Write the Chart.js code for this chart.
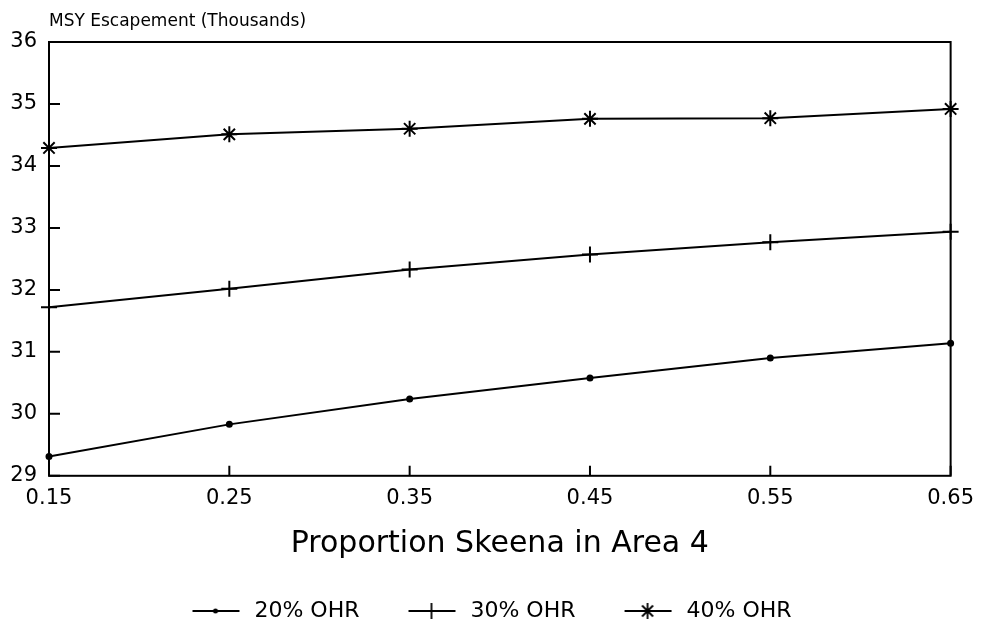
<!DOCTYPE html>
<html>
<head>
<meta charset="utf-8">
<script src="https://cdn.jsdelivr.net/npm/chart.js@4.4.0/dist/chart.umd.min.js"></script>
<style>
  html, body { margin: 0; padding: 0; background: #fff; }
  #wrap { width: 984px; height: 622px; }
</style>
</head>
<body>
<div id="wrap"><canvas id="msy" width="984" height="622"></canvas></div>
<script>
// proportion of Skeena fish in Area 4
var proportion = [0.15, 0.25, 0.35, 0.45, 0.55, 0.65];
// MSY escapement (thousands) per offshore harvest rate
var ohr20 = [29.31, 29.83, 30.24, 30.58, 30.90, 31.14];
var ohr30 = [31.72, 32.02, 32.33, 32.57, 32.77, 32.94];
var ohr40 = [34.29, 34.51, 34.60, 34.76, 34.77, 34.92];
var seriesNames = ['20% OHR', '30% OHR', '40% OHR'];
var yTicks = [29, 30, 31, 32, 33, 34, 35, 36];

var FONT = 'DejaVu Sans';

function pts(vals) {
    return proportion.map(function (p, i) { return {x: p, y: vals[i]}; });
}

// line+marker pictures for the legend, with some blank room on the left
// so the items sit apart like in the original
function legendIcon(style) {
    var c = document.createElement('canvas');
    c.width = 80; c.height = 20;
    var g = c.getContext('2d');
    var x0 = 29, x1 = 76, mid = 52;
    g.strokeStyle = '#000'; g.fillStyle = '#000'; g.lineWidth = 2;
    g.beginPath(); g.moveTo(x0, 10); g.lineTo(x1, 10); g.stroke();
    g.lineWidth = 1.8;
    if (style == 'circle') {
        g.beginPath(); g.arc(mid, 10, 2.5, 0, Math.PI * 2); g.fill();
    } else {
        g.beginPath(); g.moveTo(mid, 2); g.lineTo(mid, 18); g.stroke();
        if (style == 'star') {
            g.beginPath();
            g.moveTo(mid - 5.5, 4.5); g.lineTo(mid + 5.5, 15.5);
            g.moveTo(mid + 5.5, 4.5); g.lineTo(mid - 5.5, 15.5);
            g.stroke();
        }
    }
    return c;
}

var frame = {
    id: 'frame',
    afterDatasetsDraw: function (chart) {
        var a = chart.chartArea, ctx = chart.ctx;
        var xs = chart.scales.x, ys = chart.scales.y;
        ctx.save();
        ctx.strokeStyle = '#000';
        ctx.lineWidth = 2;
        ctx.strokeRect(a.left, a.top, a.right - a.left, a.bottom - a.top);
        ctx.beginPath();
        yTicks.forEach(function (v) {
            var py = ys.getPixelForValue(v);
            ctx.moveTo(a.left, py); ctx.lineTo(a.left + 11, py);
        });
        proportion.forEach(function (v) {
            var px = xs.getPixelForValue(v);
            ctx.moveTo(px, a.bottom); ctx.lineTo(px, a.bottom - 10);
        });
        ctx.stroke();
        ctx.fillStyle = '#000';
        ctx.font = '17px "' + FONT + '"';
        ctx.textBaseline = 'middle';
        ctx.textAlign = 'left';
        ctx.fillText('MSY Escapement (Thousands)', a.left, 22);
        ctx.restore();
    }
};

var ctx = document.getElementById('msy');

var styles = ['circle', 'cross', 'star'];
var radii = [2.5, 8, 8];
var dsets = [ohr20, ohr30, ohr40].map(function (vals, i) {
    return {
        label: seriesNames[i],
        data: pts(vals),
        borderColor: '#000',
        backgroundColor: '#000',
        borderWidth: 2,
        pointStyle: styles[i],
        pointRadius: radii[i],
        pointBorderWidth: 2,
        pointBorderColor: '#000',
        pointBackgroundColor: '#000',
        tension: 0,
        clip: false
    };
});

var myChart = new Chart(ctx, {
    type: 'line',
    data: { datasets: dsets },
    plugins: [frame],
    options: {
        responsive: false,
        animation: false,
        layout: { padding: { top: 42, right: 29, left: 0, bottom: -10 } },
        plugins: {
            tooltip: { enabled: false },
            title: { display: false },
            legend: {
                position: 'bottom',
                labels: {
                    color: '#000',
                    font: { family: FONT, size: 22, lineHeight: 0.2 },
                    usePointStyle: true,
                    pointStyleWidth: 80,
                    boxHeight: 2,
                    padding: 20,
                    generateLabels: function (chart) {
                        return seriesNames.map(function (n, i) {
                            return {
                                text: n,
                                pointStyle: legendIcon(styles[i]),
                                fillStyle: '#000',
                                strokeStyle: '#000',
                                lineWidth: 0,
                                datasetIndex: i,
                                fontColor: '#000'
                            };
                        });
                    }
                }
            }
        },
        scales: {
            x: {
                type: 'linear',
                min: 0.15,
                max: 0.65,
                afterBuildTicks: function (scale) {
                    scale.ticks = proportion.map(function (v) { return {value: v}; });
                },
                grid: { display: false, drawTicks: false },
                border: { display: false },
                ticks: {
                    color: '#000',
                    padding: 10,
                    font: { family: FONT, size: 21 },
                    callback: function (v) { return v.toFixed(2); }
                },
                title: {
                    display: true,
                    text: 'Proportion Skeena in Area 4',
                    color: '#000',
                    font: { family: FONT, size: 30 },
                    padding: { top: 5, bottom: 18 }
                }
            },
            y: {
                min: 29,
                max: 36,
                afterFit: function (scale) { scale.width = 49; },
                afterBuildTicks: function (scale) {
                    scale.ticks = yTicks.map(function (v) { return {value: v}; });
                },
                grid: { display: false, drawTicks: false },
                border: { display: false },
                ticks: {
                    color: '#000',
                    padding: 12,
                    font: { family: FONT, size: 21 }
                }
            }
        }
    }
});
</script>
</body>
</html>
